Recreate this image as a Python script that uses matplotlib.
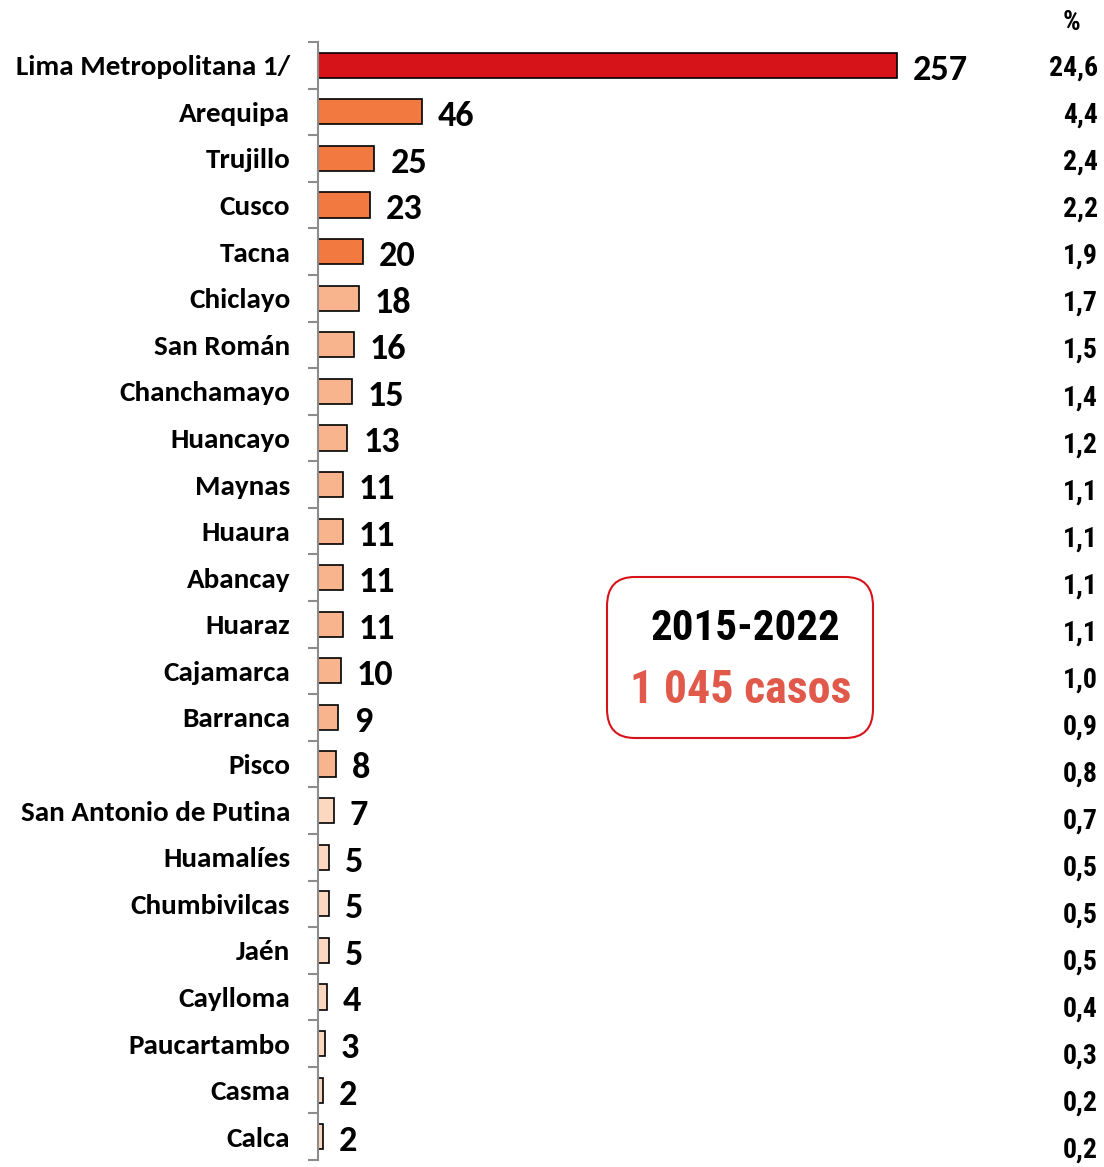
import matplotlib
matplotlib.use("Agg")
import matplotlib.pyplot as plt
from matplotlib.patches import FancyBboxPatch
import matplotlib.transforms as mtrans

categories = ["Lima Metropolitana 1/", "Arequipa", "Trujillo", "Cusco", "Tacna", "Chiclayo",
              "San Román", "Chanchamayo", "Huancayo", "Maynas", "Huaura", "Abancay", "Huaraz",
              "Cajamarca", "Barranca", "Pisco", "San Antonio de Putina", "Huamalíes",
              "Chumbivilcas", "Jaén", "Caylloma", "Paucartambo", "Casma", "Calca"]
values = [257, 46, 25, 23, 20, 18, 16, 15, 13, 11, 11, 11, 11, 10, 9, 8, 7, 5, 5, 5, 4, 3, 2, 2]
percents = ["24,6", "4,4", "2,4", "2,2", "1,9", "1,7", "1,5", "1,4", "1,2", "1,1", "1,1", "1,1",
            "1,1", "1,0", "0,9", "0,8", "0,7", "0,5", "0,5", "0,5", "0,4", "0,3", "0,2", "0,2"]
period_text = "2015-2022"
total_text = "1 045 casos"

label_font = ["Carlito", "DejaVu Sans"]
narrow = ["Roboto Condensed", "DejaVu Sans"]

def bar_color(v, i):
    if i == 0:
        return "#D7131A"
    if v >= 20:
        return "#F27A40"
    if v >= 8:
        return "#F8B48C"
    return "#FDD8C0"

W, H = 1104, 1167
fig = plt.figure(figsize=(W / 100, H / 100), dpi=100)
ax_left, ax_top, ax_bot = 318, 42, 1160
px_per_unit = 579 / 257
ax_w_px = 700
ax = fig.add_axes([ax_left / W, (H - ax_bot) / H, ax_w_px / W, (ax_bot - ax_top) / H])
ax.set_xlim(0, ax_w_px / px_per_unit)
ax.set_ylim(len(categories) - 0.5, -0.5)

ypos = list(range(len(categories)))
colors = [bar_color(v, i) for i, v in enumerate(values)]
ax.barh(ypos, values, height=0.54, color=colors, edgecolor="black", linewidth=1.2)

for y, v in zip(ypos, values):
    ax.annotate(str(v), xy=(v, y), xytext=(11.5, -1), textcoords="offset points",
                ha="left", va="center_baseline", fontsize=26, fontweight="bold",
                family=label_font, color="black")

ax.set_yticks(ypos)
ax.set_yticklabels(categories, fontsize=21, fontweight="bold", family=label_font)
ax.tick_params(axis="y", which="major", length=0, pad=20)
ax.set_yticks([i - 0.5 for i in range(len(categories) + 1)], minor=True)
ax.tick_params(axis="y", which="minor", length=7, width=1.5, color="#8c8c8c")
ax.set_xticks([])
for s in ["top", "right", "bottom"]:
    ax.spines[s].set_visible(False)
ax.spines["left"].set_color("#8c8c8c")
ax.spines["left"].set_linewidth(1.5)

# percent column
trans = mtrans.blended_transform_factory(fig.transFigure, ax.transData)
for i, p in enumerate(percents):
    ax.text(1098 / W, 0.064 + 1.0101 * i, p, transform=trans, ha="right", va="center",
            fontsize=20, fontweight="bold", family=narrow, color="black")
fig.text(1072 / W, 1 - 22 / H, "%", ha="center", va="center", fontsize=20,
         fontweight="bold", family=narrow)

# box
bx0, by0, bx1, by1 = 607, 577, 873, 738
box = FancyBboxPatch((bx0 / W, 1 - by1 / H), (bx1 - bx0) / W, (by1 - by0) / H,
                     boxstyle="round,pad=0,rounding_size=0.025", transform=fig.transFigure,
                     facecolor="white", edgecolor="#D7131A", linewidth=1.5)
fig.add_artist(box)
fig.text(745 / W, 1 - 628 / H, period_text, ha="center", va="center", fontsize=31,
         fontweight="bold", family=narrow, color="black")
fig.text(741 / W, 1 - 690 / H, total_text, ha="center", va="center", fontsize=33,
         fontweight="bold", family=narrow, color="#E0594A")

fig.savefig("out.png", dpi=100)
